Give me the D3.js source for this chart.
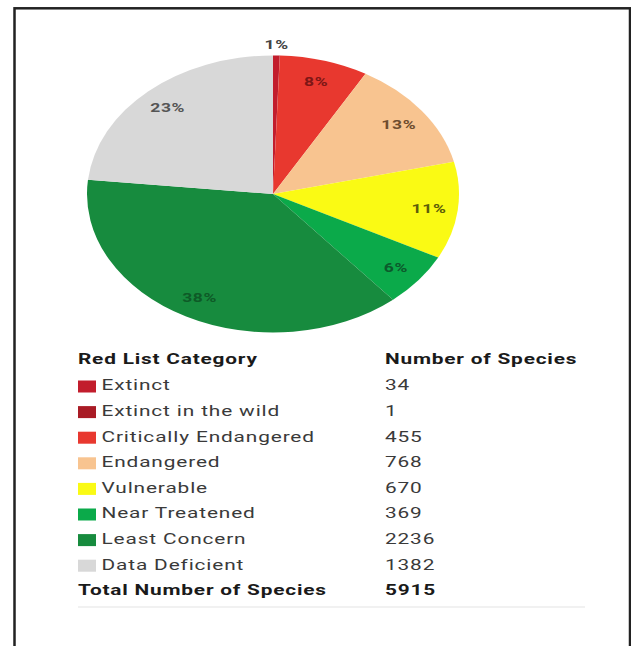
<!DOCTYPE html>
<html>
<head>
<meta charset="utf-8">
<script src="https://cdn.jsdelivr.net/npm/d3@7"></script>
<style>
  body { margin: 0; background: #fff; }
  svg { display: block; }
</style>
</head>
<body>
<div id="chart"></div>
<script>
// Red List categories and species counts
var categories = ['Extinct', 'Extinct in the wild', 'Critically Endangered', 'Endangered',
                  'Vulnerable', 'Near Treatened', 'Least Concern', 'Data Deficient'];
var species = [34, 1, 455, 768, 670, 369, 2236, 1382];
var headers = ['Red List Category', 'Number of Species'];
var totalLabel = 'Total Number of Species';

var sliceColors = ['#c21d2c', '#a91b25', '#e8382f', '#f8c490', '#fafa14', '#0baa4a', '#178b3e', '#d8d8d8'];
var labelColors = ['#444444', '#444444', '#7d1616', '#6e4c2e', '#5c5c0a', '#0c5a2c', '#0e5a27', '#555555'];

var w = 631,
    h = 646;

// the picture is stretched sideways, so draw in a squeezed space and stretch it
var sx = 1.343;
var R = 138.5,
    cx = 273 / sx,
    cy = 194;

var total = d3.sum(species);

var svg = d3.select('#chart').append('svg')
    .attr('width', w)
    .attr('height', h);

// frame
svg.append('rect')
    .attr('x', 14.5)
    .attr('y', 8.3)
    .attr('width', 615.5)
    .attr('height', 700)
    .attr('fill', 'none')
    .attr('stroke', '#222')
    .attr('stroke-width', 2.5);

var g = svg.append('g')
    .attr('transform', 'scale(' + sx + ',1)');

//Pie
var pie = d3.pie().sort(null).value(function(d) { return d; });
var arcs = pie(species);
var arc = d3.arc().innerRadius(0).outerRadius(R);

var pieG = g.append('g')
    .attr('transform', 'translate(' + cx + ',' + cy + ')');

pieG.selectAll('path')
    .data(arcs)
    .enter()
    .append('path')
    .attr('d', arc)
    .attr('fill', function(d, i) { return sliceColors[i]; });

//Percent labels
var pct = function(v) { return Math.round(v / total * 100); };
var labelR = function(d) { return d.value / total < 0.01 ? R * 1.08 : R * 0.845; };

pieG.selectAll('text')
    .data(arcs.filter(function(d) { return pct(d.value) > 0; }))
    .enter()
    .append('text')
    .attr('x', function(d) {
      var a = (d.startAngle + d.endAngle) / 2;
      return Math.sin(a) * labelR(d);
    })
    .attr('y', function(d) {
      var a = (d.startAngle + d.endAngle) / 2;
      return -Math.cos(a) * labelR(d);
    })
    .attr('dy', '0.36em')
    .attr('text-anchor', 'middle')
    .attr('font-family', 'Roboto, sans-serif')
    .attr('font-weight', 'bold')
    .attr('font-size', '13px')
    .attr('letter-spacing', '0.5px')
    .attr('fill', function(d) { return labelColors[d.index]; })
    .text(function(d) { return pct(d.value) + '%'; });

//Table
var x0 = 78 / sx,
    xText = 101.5 / sx,
    xNum = 385 / sx,
    xEnd = 585 / sx;

var y = d3.scaleLinear()
    .domain([0, categories.length])
    .range([390.5, 595.3]);

var font = 'Roboto, sans-serif';

g.selectAll('text.header')
    .data(headers)
    .enter()
    .append('text')
    .attr('class', 'header')
    .attr('x', function(d, i) { return i == 0 ? x0 : xNum; })
    .attr('y', 364)
    .attr('font-family', font)
    .attr('font-weight', 'bold')
    .attr('font-size', '15.5px')
    .attr('letter-spacing', '0.6px')
    .attr('fill', '#1a1a1a')
    .text(function(d) { return d; });

var rows = g.selectAll('g.row')
    .data(categories)
    .enter()
    .append('g')
    .attr('class', 'row');

rows.append('rect')
    .attr('x', x0)
    .attr('y', function(d, i) { return y(i) - 10; })
    .attr('width', 18 / sx)
    .attr('height', 12)
    .attr('fill', function(d, i) { return sliceColors[i]; });

rows.append('text')
    .attr('x', xText)
    .attr('y', function(d, i) { return y(i); })
    .attr('font-family', font)
    .attr('font-size', '15.5px')
    .attr('letter-spacing', '0.65px')
    .attr('fill', '#3a3a3a')
    .text(function(d) { return d; });

rows.append('text')
    .attr('x', xNum)
    .attr('y', function(d, i) { return y(i); })
    .attr('font-family', font)
    .attr('font-size', '15.5px')
    .attr('letter-spacing', '0.65px')
    .attr('fill', '#3a3a3a')
    .text(function(d, i) { return species[i]; });

//Total row
g.append('text')
    .attr('x', x0)
    .attr('y', y(categories.length))
    .attr('font-family', font)
    .attr('font-weight', 'bold')
    .attr('font-size', '15.5px')
    .attr('letter-spacing', '0.6px')
    .attr('fill', '#1a1a1a')
    .text(totalLabel);

g.append('text')
    .attr('x', xNum)
    .attr('y', y(categories.length))
    .attr('font-family', font)
    .attr('font-weight', 'bold')
    .attr('font-size', '15.5px')
    .attr('letter-spacing', '0.6px')
    .attr('fill', '#1a1a1a')
    .text(total);

g.append('line')
    .attr('x1', x0)
    .attr('x2', xEnd)
    .attr('y1', 607)
    .attr('y2', 607)
    .attr('stroke', '#ececec')
    .attr('stroke-width', 1.5);
</script>
</body>
</html>
